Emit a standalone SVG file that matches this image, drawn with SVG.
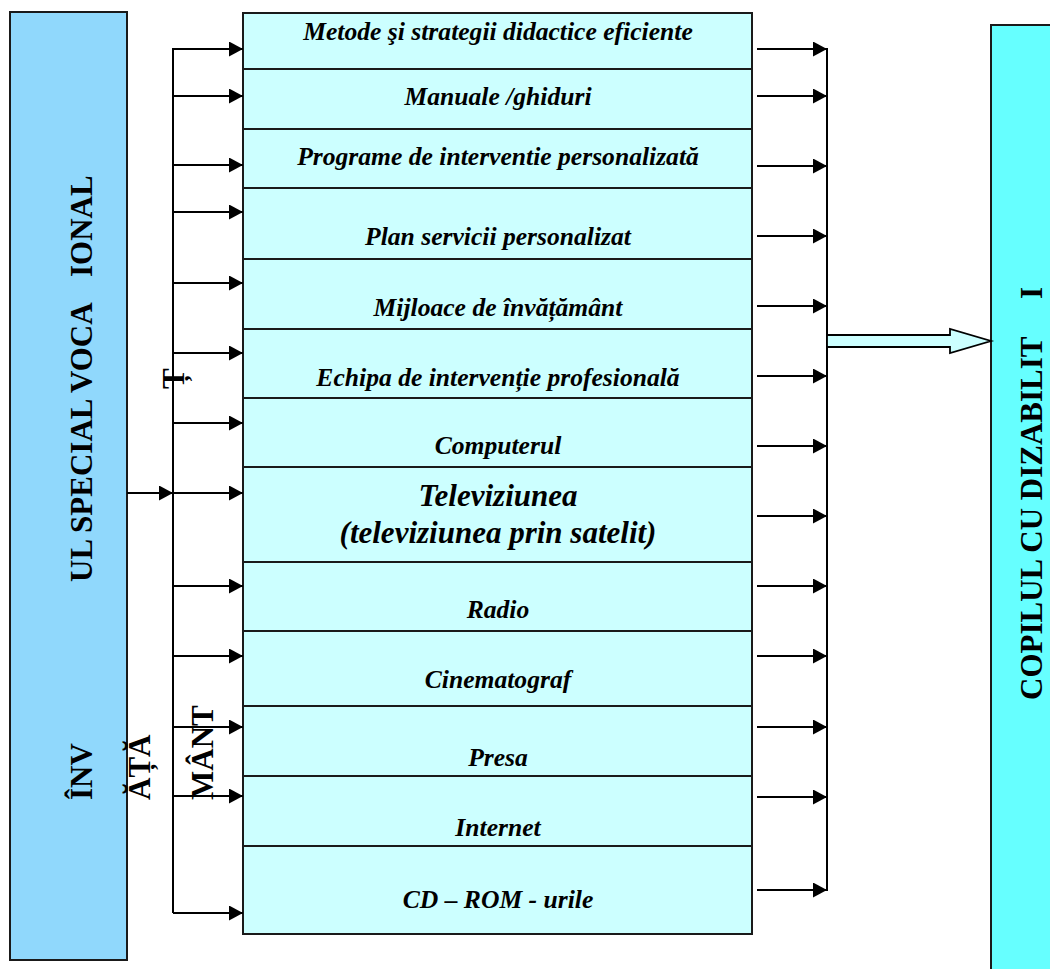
<svg xmlns="http://www.w3.org/2000/svg" width="1050" height="969" viewBox="0 0 1050 969">
  <defs>
    <marker id="head" markerUnits="userSpaceOnUse" markerWidth="14" markerHeight="15" refX="14" refY="7.5" orient="auto">
      <path d="M0,0 L14,7.5 L0,15 Z" fill="#000"/>
    </marker>
    <style>
      .bar-l { fill: #90D8FC; stroke: #1a1a1a; stroke-width: 2; }
      .bar-r { fill: #66FFFF; stroke: #1a1a1a; stroke-width: 2; }
      .box { fill: #CCFFFF; stroke: #1a1a1a; stroke-width: 2; }
      .lbl { font-family: "Liberation Serif", "Times New Roman", serif; font-weight: bold; font-style: italic; font-size: 25.6px; fill: #000; text-anchor: middle; }
      .big { font-size: 31px; }
      .vt { font-family: "Liberation Serif", "Times New Roman", serif; font-weight: bold; font-size: 31px; fill: #000; }
      .wire { stroke: #000; stroke-width: 2; fill: none; }
      .arr { stroke: #000; stroke-width: 2; fill: none; marker-end: url(#head); }
      .fat { fill: #CCFFFF; stroke: #000; stroke-width: 1.8; }
    </style>
  </defs>

  <rect width="1050" height="969" fill="#fff"/>

  <!-- source column -->
  <g id="node-source">
    <rect class="bar-l" x="10" y="12" width="117" height="948"/>
    <text class="vt" transform="translate(92,582) rotate(-90)">UL SPECIAL VOCA</text>
    <text class="vt" transform="translate(92,277) rotate(-90)">IONAL</text>
    <text class="vt" transform="translate(92,800) rotate(-90)">ÎNV</text>
    <text class="vt" transform="translate(150,800) rotate(-90)">ĂȚĂ</text>
    <text class="vt" transform="translate(213,800) rotate(-90)">MÂNT</text>
    <text class="vt" transform="translate(184,389) rotate(-90)">Ț</text>
  </g>

  <!-- resource stack -->
  <g id="node-metode"><rect class="box" x="243" y="13" width="509" height="56"/><text class="lbl" x="498" y="40">Metode şi strategii didactice eficiente</text></g>
  <g id="node-manuale"><rect class="box" x="243" y="69" width="509" height="60"/><text class="lbl" x="498" y="105">Manuale /ghiduri</text></g>
  <g id="node-programe"><rect class="box" x="243" y="129" width="509" height="59"/><text class="lbl" x="498" y="165">Programe de interventie personalizată</text></g>
  <g id="node-plan"><rect class="box" x="243" y="188" width="509" height="71"/><text class="lbl" x="498" y="245">Plan servicii personalizat</text></g>
  <g id="node-mijloace"><rect class="box" x="243" y="259" width="509" height="70"/><text class="lbl" x="498" y="316">Mijloace de învățământ</text></g>
  <g id="node-echipa"><rect class="box" x="243" y="329" width="509" height="69"/><text class="lbl" x="498" y="386">Echipa de intervenție profesională</text></g>
  <g id="node-computer"><rect class="box" x="243" y="398" width="509" height="69"/><text class="lbl" x="498" y="454">Computerul</text></g>
  <g id="node-tv"><rect class="box" x="243" y="467" width="509" height="95"/><text class="lbl big" x="498" y="506">Televiziunea</text><text class="lbl big" x="498" y="543">(televiziunea prin satelit)</text></g>
  <g id="node-radio"><rect class="box" x="243" y="562" width="509" height="69"/><text class="lbl" x="498" y="618">Radio</text></g>
  <g id="node-cinema"><rect class="box" x="243" y="631" width="509" height="75"/><text class="lbl" x="498" y="688">Cinematograf</text></g>
  <g id="node-presa"><rect class="box" x="243" y="706" width="509" height="70"/><text class="lbl" x="498" y="766">Presa</text></g>
  <g id="node-internet"><rect class="box" x="243" y="776" width="509" height="70"/><text class="lbl" x="498" y="836">Internet</text></g>
  <g id="node-cdrom"><rect class="box" x="243" y="846" width="509" height="88"/><text class="lbl" x="498" y="908">CD – ROM - urile</text></g>

  <!-- target column -->
  <g id="node-target">
    <rect class="bar-r" x="991" y="25" width="80" height="960"/>
    <text class="vt" transform="translate(1042,700) rotate(-90)">COPILUL CU DIZABILIT</text>
    <text class="vt" transform="translate(1042,299) rotate(-90)">I</text>
  </g>

  <g id="connectors">
    <!-- fan-out bus -->
    <line class="wire" x1="173" y1="48" x2="173" y2="913"/>
    <line class="arr" x1="127" y1="493" x2="173" y2="493"/>
    <line class="arr" x1="173" y1="49" x2="243" y2="49"/>
    <line class="arr" x1="173" y1="96" x2="243" y2="96"/>
    <line class="arr" x1="173" y1="165" x2="243" y2="165"/>
    <line class="arr" x1="173" y1="212" x2="243" y2="212"/>
    <line class="arr" x1="173" y1="283" x2="243" y2="283"/>
    <line class="arr" x1="173" y1="353" x2="243" y2="353"/>
    <line class="arr" x1="173" y1="423" x2="243" y2="423"/>
    <line class="arr" x1="173" y1="493" x2="243" y2="493"/>
    <line class="arr" x1="173" y1="586" x2="243" y2="586"/>
    <line class="arr" x1="173" y1="656" x2="243" y2="656"/>
    <line class="arr" x1="173" y1="727" x2="243" y2="727"/>
    <line class="arr" x1="173" y1="796" x2="243" y2="796"/>
    <line class="arr" x1="173" y1="913" x2="243" y2="913"/>

    <!-- collecting bus -->
    <line class="wire" x1="827" y1="48" x2="827" y2="891"/>
    <line class="arr" x1="757" y1="49" x2="827" y2="49"/>
    <line class="arr" x1="757" y1="96" x2="827" y2="96"/>
    <line class="arr" x1="757" y1="166" x2="827" y2="166"/>
    <line class="arr" x1="757" y1="236" x2="827" y2="236"/>
    <line class="arr" x1="757" y1="306" x2="827" y2="306"/>
    <line class="arr" x1="757" y1="376" x2="827" y2="376"/>
    <line class="arr" x1="757" y1="446" x2="827" y2="446"/>
    <line class="arr" x1="757" y1="516" x2="827" y2="516"/>
    <line class="arr" x1="757" y1="586" x2="827" y2="586"/>
    <line class="arr" x1="757" y1="656" x2="827" y2="656"/>
    <line class="arr" x1="757" y1="727" x2="827" y2="727"/>
    <line class="arr" x1="757" y1="797" x2="827" y2="797"/>
    <line class="arr" x1="757" y1="890" x2="827" y2="890"/>

    <!-- block arrow into target -->
    <polygon class="fat" points="827,335 950,335 950,329 991,341 950,353 950,347 827,347"/>
  </g>
</svg>
